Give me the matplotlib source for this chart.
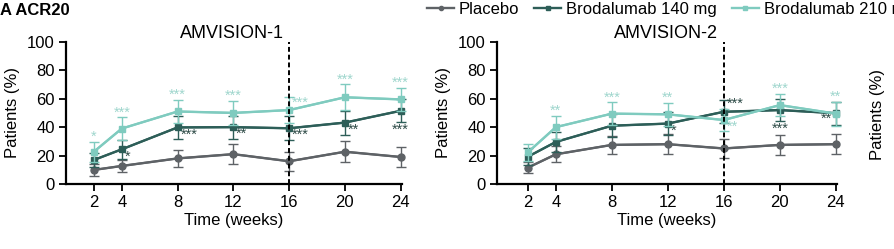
import matplotlib
matplotlib.use('Agg')
from matplotlib import pyplot as plt

weeks = [2, 4, 8, 12, 16, 20, 24]
series_names = ['Placebo', 'Brodalumab 140 mg', 'Brodalumab 210 mg']

# AMVISION-1
a1_placebo = [9.9, 12.7, 18.0, 21.0, 16.0, 22.7, 19.0]
a1_placebo_err = [4.0, 4.0, 6.0, 7.0, 6.5, 7.5, 7.0]
a1_140 = [16.9, 24.4, 39.8, 40.0, 39.2, 43.2, 51.5]
a1_140_err = [5.0, 6.5, 8.0, 8.0, 8.5, 8.5, 8.0]
a1_210 = [22.7, 39.0, 51.0, 50.0, 52.0, 61.0, 59.5]
a1_210_err = [7.0, 8.0, 8.0, 8.5, 9.0, 9.0, 8.0]
a1_140_stars = ['', '*', '***', '**', '***', '**', '***']
a1_210_stars = ['*', '***', '***', '***', '***', '***', '***']

# AMVISION-2
a2_placebo = [11.5, 20.9, 27.5, 28.0, 25.0, 27.5, 28.0]
a2_placebo_err = [4.0, 5.5, 6.5, 7.0, 6.5, 7.0, 7.0]
a2_140 = [19.2, 29.6, 41.0, 42.5, 50.8, 52.0, 49.8]
a2_140_err = [6.0, 7.0, 8.0, 8.0, 8.0, 8.0, 8.0]
a2_210 = [22.3, 40.0, 49.5, 49.0, 45.0, 55.5, 49.5]
a2_210_err = [6.0, 8.0, 8.0, 8.0, 8.0, 8.0, 8.5]
a2_140_stars = ['', '', '', '*', '***', '***', '**']
a2_210_stars = ['', '**', '***', '**', '**', '***', '**']

COLORS = ['#5e6266', '#2d5e58', '#7fcbbf']
STAR_COLORS = ['#5e6266', '#2d4a46', '#9fd6cd']
MARKERS = ['o', 's', 's']

# star placement: 'up' above error bar, 'down' below error bar,
# 'right' / 'rightup' / 'left' beside the point
a1_140_place = ['', 'right', 'right', 'right', 'right', 'right', 'down']
a1_210_place = ['up', 'up', 'up', 'up', 'rightup', 'up', 'up']
a2_140_place = ['', '', '', 'right', 'rightup', 'down', 'left']
a2_210_place = ['', 'up', 'up', 'up', 'right', 'up', 'up']

plt.rcParams['font.family'] = ['Liberation Sans', 'DejaVu Sans']
plt.rcParams['font.size'] = 12

fig = plt.figure(figsize=(8.94, 2.49), dpi=100)
ax1 = fig.add_axes([0.0738, 0.261, 0.376, 0.571])
ax2 = fig.add_axes([0.556, 0.261, 0.3805, 0.571])

SF = 10.5


def put_stars(ax, vals, errs, stars, places, color):
    for x, v, e, s, p in zip(weeks, vals, errs, stars, places):
        if not s:
            continue
        if p == 'up':
            ax.text(x, v + e - 1.5, s, color=color, ha='center', va='bottom', fontsize=SF)
        elif p == 'down':
            ax.text(x, v - e - 0.5, s, color=color, ha='center', va='top', fontsize=SF)
        elif p == 'right':
            ax.text(x + 0.2, v, s, color=color, ha='left', va='top', fontsize=SF)
        elif p == 'rightup':
            ax.text(x + 0.2, v + 0.5, s, color=color, ha='left', va='bottom', fontsize=SF)
        elif p == 'left':
            ax.text(x - 0.3, v + 1, s, color=color, ha='right', va='top', fontsize=SF)


panels = [
    (ax1, 'AMVISION-1', (0, 24.1),
     [a1_placebo, a1_140, a1_210], [a1_placebo_err, a1_140_err, a1_210_err],
     [None, a1_140_stars, a1_210_stars], [None, a1_140_place, a1_210_place]),
    (ax2, 'AMVISION-2', (-0.2, 24.1),
     [a2_placebo, a2_140, a2_210], [a2_placebo_err, a2_140_err, a2_210_err],
     [None, a2_140_stars, a2_210_stars], [None, a2_140_place, a2_210_place]),
]

handles = []
for ax, title, xlim, vals, errs, stars, places in panels:
    for i in range(3):
        ax.errorbar(weeks, vals[i], yerr=errs[i], color=COLORS[i], ecolor=COLORS[i],
                    elinewidth=1.0, capsize=3.5, capthick=1.0, zorder=2 + i, clip_on=False)
        h, = ax.plot(weeks, vals[i], color=COLORS[i], marker=MARKERS[i], markersize=5,
                     linewidth=1.7, zorder=3 + i, clip_on=False, label=series_names[i])
        if ax is ax1:
            handles.append(h)
        if stars[i] is not None:
            put_stars(ax, vals[i], errs[i], stars[i], places[i], STAR_COLORS[i])
    ax.axvline(16, ymin=0, ymax=1, color='black', linestyle=(0, (2.5, 1.5)), linewidth=1.4, zorder=6)
    ax.text(15.6, 106, title, ha='right', va='center', fontsize=13)
    ax.set_xlim(*xlim)
    ax.set_ylim(0, 100)
    ax.set_xticks(weeks)
    ax.set_yticks([0, 20, 40, 60, 80, 100])
    ax.set_xlabel('Time (weeks)', fontsize=12, labelpad=2)
    ax.set_ylabel('Patients (%)', fontsize=12, labelpad=5)
    for loc, spine in ax.spines.items():
        if loc in ['right', 'top']:
            spine.set_color('none')
        else:
            spine.set_linewidth(1.6)
    ax.tick_params(direction='out', length=5, width=1.3, labelsize=12, pad=3)
    ax.xaxis.set_ticks_position('bottom')
    ax.yaxis.set_ticks_position('left')

fig.text(0.0, 0.958, 'A ACR20', fontsize=12, fontweight='bold', ha='left', va='center')
fig.legend(handles=handles, loc='center left', bbox_to_anchor=(0.478, 0.962), ncol=3,
           frameon=False, handlelength=1.6, handletextpad=0.3, columnspacing=0.9,
           fontsize=12, borderaxespad=0, borderpad=0, markerscale=0.6)
fig.text(0.981, 0.54, 'Patients (%)', rotation=90, ha='center', va='center', fontsize=12)

fig.savefig('out.png', dpi=100)
